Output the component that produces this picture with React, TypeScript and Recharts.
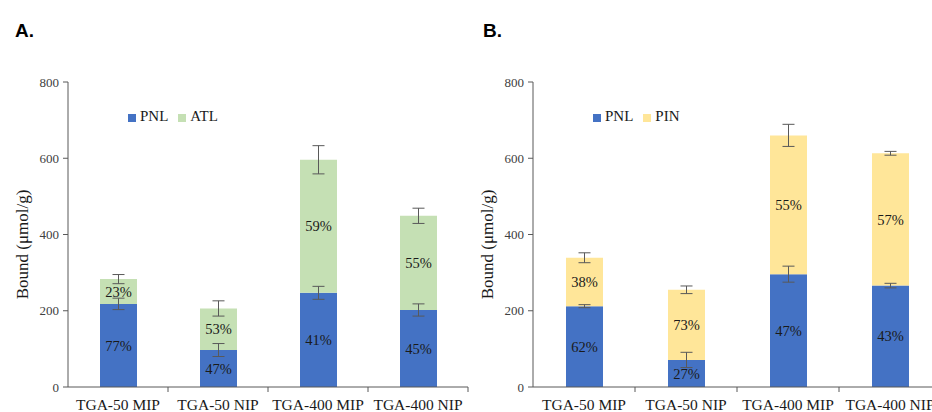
import React from 'react';
import { BarChart, Bar, XAxis, YAxis, Legend, ErrorBar, LabelList } from 'recharts';

const categories = ['TGA-50 MIP', 'TGA-50 NIP', 'TGA-400 MIP', 'TGA-400 NIP'];
const yTicks = [0, 200, 400, 600, 800];

// panel A: PNL + ATL
const pnlA = [218, 97, 247, 202];
const pnlAErr = [15, 17, 17, 16];
const pnlAPct = ['77%', '47%', '41%', '45%'];
const atlA = [65, 109, 349, 247];
const atlAErr = [12, 20, 37, 20];
const atlAPct = ['23%', '53%', '59%', '55%'];

// panel B: PNL + PIN
const pnlB = [212, 71, 296, 266];
const pnlBErr = [4, 20, 21, 6];
const pnlBPct = ['62%', '27%', '47%', '43%'];
const pinB = [127, 184, 364, 347];
const pinBErr = [13, 10, 29, 5];
const pinBPct = ['38%', '73%', '55%', '57%'];

const SERIF = 'Liberation Serif';
const BLUE = '#4472C4';
const GREEN = '#C5E0B4';
const YELLOW = '#FFE699';
const AXIS = '#595959';

const rows = (lo: number[], loErr: number[], loPct: string[], hi: number[], hiErr: number[], hiPct: string[]) =>
  categories.map((name, i) => ({
    name,
    lo: lo[i],
    loErr: loErr[i],
    loPct: loPct[i],
    hi: hi[i],
    hiErr: hiErr[i],
    hiPct: hiPct[i],
  }));

const dataA = rows(pnlA, pnlAErr, pnlAPct, atlA, atlAErr, atlAPct);
const dataB = rows(pnlB, pnlBErr, pnlBPct, pinB, pinBErr, pinBPct);

function CatTick(props: any) {
  const { x, y, payload, index, visibleTicksCount } = props;
  const half = payload && payload.offset ? payload.offset : 50;
  const last = index === visibleTicksCount - 1;
  return (
    <g>
      {index > 0 && <line x1={x - half} x2={x - half} y1={y} y2={y + 5} stroke={AXIS} />}
      {last && <line x1={x + half} x2={x + half} y1={y} y2={y + 5} stroke={AXIS} />}
      <text x={x} y={y + 23} textAnchor="middle" fontFamily={SERIF} fontSize={15.5} fill="#1a1a1a">
        {payload.value}
      </text>
    </g>
  );
}

function Panel({ data, second, secondColor, width }: any) {
  return (
    <BarChart width={width} height={412} data={data} margin={{ top: 82, right: 4, left: 0, bottom: 0 }} barSize={37}>
      <XAxis
        dataKey="name"
        height={25}
        tickLine={false}
        tickSize={0}
        tickMargin={0}
        tick={<CatTick />}
        interval={0}
        axisLine={{ stroke: AXIS }}
      />
      <YAxis
        width={68}
        domain={[0, 800]}
        ticks={yTicks}
        tickSize={5}
        tickMargin={4}
        axisLine={{ stroke: AXIS }}
        tickLine={{ stroke: AXIS }}
        tick={{ fontFamily: SERIF, fontSize: 13, fill: '#404040' }}
        label={{
          value: 'Bound (μmol/g)',
          angle: -90,
          position: 'insideLeft',
          offset: 22,
          dy: 10,
          fontFamily: SERIF,
          fontSize: 17,
          fill: '#1a1a1a',
          style: { textAnchor: 'middle' },
        }}
      />
      <Legend
        verticalAlign="middle"
        align="center"
        iconType="square"
        iconSize={8}
        itemSorter={(item: any) => (item.dataKey === 'lo' ? 0 : 1)}
        wrapperStyle={{ top: 108, left: 128, width: 'auto', fontFamily: SERIF, fontSize: 15 }}
        formatter={(v: string) => <span style={{ color: '#1a1a1a' }}>{v}</span>}
      />
      <Bar dataKey="lo" name="PNL" stackId="s" fill={BLUE} isAnimationActive={false}>
        <ErrorBar dataKey="loErr" width={6} stroke={AXIS} strokeWidth={1} />
        <LabelList dataKey="loPct" position="center" fill="#1a1a1a" fontFamily={SERIF} fontSize={14.5} />
      </Bar>
      <Bar dataKey="hi" name={second} stackId="s" fill={secondColor} isAnimationActive={false}>
        <ErrorBar dataKey="hiErr" width={6} stroke={AXIS} strokeWidth={1} />
        <LabelList dataKey="hiPct" position="center" fill="#1a1a1a" fontFamily={SERIF} fontSize={14.5} />
      </Bar>
    </BarChart>
  );
}

const panelTitle: React.CSSProperties = {
  position: 'absolute',
  top: 21,
  fontFamily: '"Liberation Sans", Arial, sans-serif',
  fontWeight: 'bold',
  fontSize: 19,
  lineHeight: '19px',
  color: '#000',
};

export default function App() {
  return (
    <div
      style={{
        position: 'fixed',
        left: 0,
        top: 0,
        width: 932,
        height: 412,
        overflow: 'hidden',
        background: '#fff',
        fontFamily: SERIF,
      }}
    >
      <div style={{ ...panelTitle, left: 15 }}>A.</div>
      <div style={{ ...panelTitle, left: 483 }}>B.</div>
      <div style={{ position: 'absolute', left: 0, top: 0 }}>
        <Panel data={dataA} second="ATL" secondColor={GREEN} width={472} />
      </div>
      <div style={{ position: 'absolute', left: 465, top: 0 }}>
        <Panel data={dataB} second="PIN" secondColor={YELLOW} width={480} />
      </div>
    </div>
  );
}
